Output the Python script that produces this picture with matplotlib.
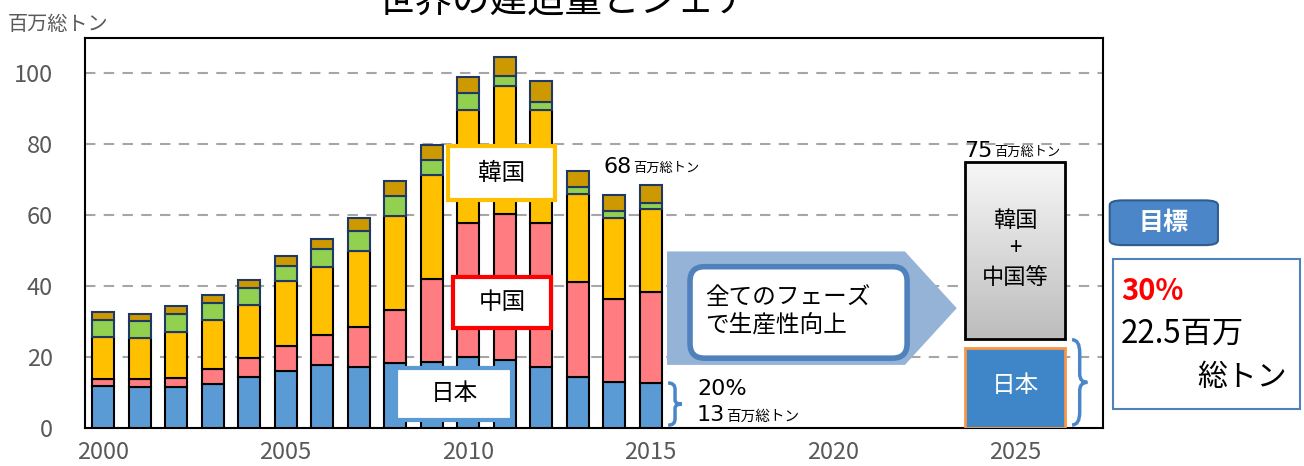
import numpy as np
import matplotlib
matplotlib.use('Agg')
import matplotlib.pyplot as plt
from matplotlib.patches import Rectangle, Polygon, FancyBboxPatch, PathPatch
from matplotlib.path import Path
from matplotlib.colors import LinearSegmentedColormap

plt.rcParams['font.family'] = ['Noto Sans CJK JP', 'DejaVu Sans']

# data (million gross tons)
years = list(range(2000, 2016))
japan = [11.9, 11.7, 11.6, 12.5, 14.4, 16.1, 17.8, 17.2, 18.4, 18.6, 20.1, 19.2, 17.2, 14.5, 13.1, 12.8]
china = [1.9, 2.2, 2.6, 4.2, 5.3, 6.9, 8.5, 11.4, 14.9, 23.4, 37.7, 41.1, 40.6, 26.7, 23.3, 25.5]
korea = [12.0, 11.5, 13.0, 13.8, 15.0, 18.5, 19.0, 21.2, 26.4, 29.3, 32.0, 36.1, 31.8, 24.9, 22.8, 23.6]
others1 = [4.7, 4.8, 5.0, 4.7, 4.8, 4.1, 5.2, 5.9, 5.8, 4.2, 4.7, 3.0, 2.4, 1.9, 1.9, 1.7]
others2 = [2.1, 2.0, 2.1, 2.2, 2.3, 2.8, 2.9, 3.5, 4.1, 4.3, 4.6, 5.2, 6.0, 4.4, 4.7, 5.0]

target_year = 2025
target_total = 75
target_japan = 22.5
target_rest_bottom = 25

xticks = [2000, 2005, 2010, 2015, 2020, 2025]
yticks = [0, 20, 40, 60, 80, 100]

series = [
    (japan, '#5B9BD5', 'black'),
    (china, '#FF7C80', 'black'),
    (korea, '#FFC000', 'black'),
    (others1, '#92D050', '#1F3864'),
    (others2, '#CC9900', '#1F3864'),
]

fig = plt.figure(figsize=(13.04, 4.66), dpi=100)
ax = fig.add_axes([0.0652, 0.0815, 0.7807, 0.837])

bottom = np.zeros(len(years))
for vals, col, ec in series:
    ax.bar(years, vals, bottom=bottom, width=0.6, color=col, edgecolor=ec,
           linewidth=1.5, zorder=3)
    bottom += np.array(vals)

# grid
for y in yticks[1:]:
    ax.axhline(y, color='#A6A6A6', linestyle=(0, (5, 4)), linewidth=1.5, zorder=1)

# target bars for 2025
tw = 2.74
ax.bar([target_year], [target_japan], width=tw, color='#3F86C9', edgecolor='#F79646',
       linewidth=2, zorder=3)
cmap = LinearSegmentedColormap.from_list('g', ['#BDBDBD', '#F7F7F7'])
grad = np.linspace(0, 1, 100).reshape(-1, 1)
ax.imshow(grad, cmap=cmap, origin='lower', aspect='auto', zorder=3,
          extent=[target_year - tw / 2, target_year + tw / 2, target_rest_bottom, target_total])
ax.add_patch(Rectangle((target_year - tw / 2, target_rest_bottom), tw,
                       target_total - target_rest_bottom, fill=False,
                       edgecolor='black', linewidth=2, zorder=4))
ax.text(target_year, 12, '日本', color='white', fontsize=17, ha='center', va='center', zorder=5)
ax.text(target_year, 50.5, '韓国\n+\n中国等', color='black', fontsize=16, ha='center',
        va='center', linespacing=1.3, zorder=5)

# big arrow
ax.add_patch(Polygon([(2015.45, 49.8), (2021.97, 49.8), (2023.39, 33.8),
                      (2021.97, 17.8), (2015.45, 17.8)], closed=True,
                     facecolor='#95B3D7', edgecolor='none', zorder=2))
ax.add_patch(FancyBboxPatch((2016.08, 19.7), 2022.03 - 2016.08, 45.5 - 19.7,
                            boxstyle='round,pad=0,rounding_size=0.4', mutation_aspect=10.3,
                            facecolor='white', edgecolor='#4F81BD', linewidth=4, zorder=4))
ax.text(2016.5, 32.8, '全てのフェーズ\nで生産性向上', fontsize=17, ha='left', va='center',
        linespacing=1.25, zorder=5)

# label boxes
def label_box(x0, x1, y0, y1, text, ec):
    ax.add_patch(Rectangle((x0, y0), x1 - x0, y1 - y0, facecolor='white', edgecolor=ec,
                           linewidth=3, zorder=6))
    ax.text((x0 + x1) / 2, (y0 + y1) / 2, text, fontsize=17, ha='center', va='center', zorder=7)

label_box(2009.45, 2012.38, 64.4, 79.4, '韓国', '#FFC000')
label_box(2009.59, 2012.27, 28.2, 42.7, '中国', '#FF0000')
label_box(2008.03, 2011.2, 2.3, 16.9, '日本', '#5B9BD5')

# braces
def brace(x0, w, y0, y1, color='#4A86C8'):
    h = y1 - y0
    ym = (y0 + y1) / 2
    xm = x0 + w / 2
    verts = [(x0, y1), (xm, y1), (xm, y1 - 0.15 * h),
             (xm, ym + 0.1 * h),
             (xm, ym), (x0 + w, ym),
             (xm, ym), (xm, ym - 0.1 * h),
             (xm, y0 + 0.15 * h),
             (xm, y0), (x0, y0)]
    codes = [Path.MOVETO, Path.CURVE3, Path.CURVE3, Path.LINETO,
             Path.CURVE3, Path.CURVE3, Path.CURVE3, Path.CURVE3,
             Path.LINETO, Path.CURVE3, Path.CURVE3]
    ax.add_patch(PathPatch(Path(verts, codes), fill=False, edgecolor=color,
                           linewidth=2.5, zorder=5, clip_on=False))

brace(2015.48, 0.38, 0.8, 12.7)
brace(2026.55, 0.42, 0.85, 24.9)

# annotations: big number followed by small unit
def amount(x, y, num, unit_size=9.5):
    t = ax.text(x, y, num, fontsize=16, family='DejaVu Sans', ha='left', va='center', zorder=5)
    ax.annotate('百万総トン', xy=(1, 0.08), xycoords=t, xytext=(1, 0), textcoords='offset points',
                fontsize=unit_size, ha='left', va='bottom', zorder=5)

amount(2013.7, 73.7, '68')
amount(2023.6, 78.2, '75')
ax.text(2016.27, 10.9, '20%', fontsize=16, family='DejaVu Sans', ha='left', va='center', zorder=5)
amount(2016.27, 3.6, '13', unit_size=10.5)

ax.set_xlim(1999.5, 2027.4)
ax.set_ylim(0, 110)
ax.set_xticks(xticks)
ax.set_yticks(yticks)
ax.tick_params(length=0, labelsize=17, labelcolor='#595959')
ax.tick_params(axis='x', pad=9)
ax.tick_params(axis='y', pad=23)
for s in ax.spines.values():
    s.set_linewidth(1.5)
    s.set_color('black')

# outside texts
fig.text(0.006, 1 - 24 / 466, '百万総トン', fontsize=14.5, color='#595959', ha='left', va='center')
fig.text(0.433, 1 - 12 / 466, '世界の建造量とシェア', fontsize=27, ha='center', va='baseline')

fig.patches.append(FancyBboxPatch((0.851, 0.474), 0.083, 0.096,
                                  boxstyle='round,pad=0,rounding_size=0.01',
                                  transform=fig.transFigure, facecolor='#4A86C8',
                                  edgecolor='#2F5D8E', linewidth=1.5))
fig.text(0.8925, 0.521, '目標', fontsize=18, color='white', fontweight='bold',
         ha='center', va='center')
fig.patches.append(Rectangle((0.8535, 0.122), 0.1435, 0.322, transform=fig.transFigure,
                             facecolor='white', edgecolor='#4F81BD', linewidth=1.5))
fig.text(0.8595, 1 - 291 / 466, '30%', fontsize=21, color='#FF0000', fontweight='bold',
         ha='left', va='center')
fig.text(0.8595, 1 - 334 / 466, '22.5百万', fontsize=22.5, ha='left', va='center')
fig.text(0.918, 1 - 377 / 466, '総トン', fontsize=21.5, ha='left', va='center')

fig.savefig('out.png', dpi=100)
